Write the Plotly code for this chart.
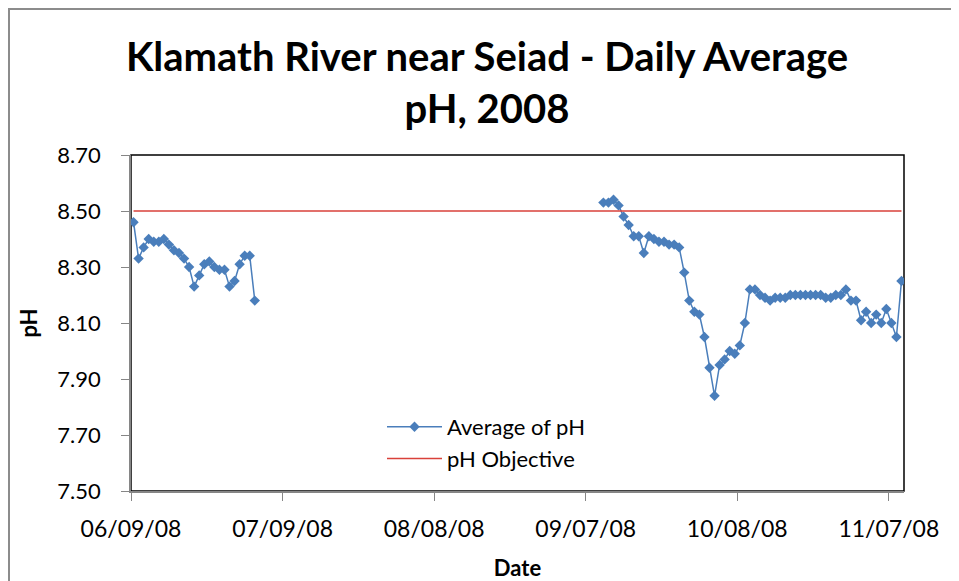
import pandas as pd
import plotly.graph_objects as go

# ---- data ----
title_text = "Klamath River near Seiad - Daily Average<br>pH, 2008"
series_name = "Average of pH"
objective_name = "pH Objective"
objective_value = 8.50

seg1_start = "2008-06-09"
seg1_ph = [8.46, 8.33, 8.37, 8.40, 8.39, 8.39, 8.40, 8.38, 8.36, 8.35,
           8.33, 8.30, 8.23, 8.27, 8.31, 8.32, 8.30, 8.29, 8.29, 8.23,
           8.25, 8.31, 8.34, 8.34, 8.18]

seg2_start = "2008-09-10"
seg2_ph = [8.53, 8.53, 8.54, 8.52, 8.48, 8.45, 8.41, 8.41, 8.35, 8.41,
           8.40, 8.39, 8.39, 8.38, 8.38, 8.37, 8.28, 8.18, 8.14, 8.13,
           8.05, 7.94, 7.84, 7.95, 7.97, 8.00, 7.99, 8.02, 8.10,
           8.22, 8.22, 8.20, 8.19, 8.18, 8.19, 8.19, 8.19, 8.20, 8.20,
           8.20, 8.20, 8.20, 8.20, 8.20, 8.19, 8.19, 8.20, 8.20, 8.22,
           8.18, 8.18, 8.11, 8.14, 8.10, 8.13, 8.10, 8.15, 8.10, 8.05,
           8.25]

axis_start = "2008-06-09"
axis_days = 153
tick_step_days = 30
tick_labels = ["06/09/08", "07/09/08", "08/08/08", "09/07/08", "10/08/08", "11/07/08"]
y_ticks = [7.50, 7.70, 7.90, 8.10, 8.30, 8.50, 8.70]

# ---- build ----
half_day = pd.Timedelta(hours=12)
x1 = list(pd.date_range(seg1_start, periods=len(seg1_ph), freq="D") + half_day)
x2 = list(pd.date_range(seg2_start, periods=len(seg2_ph), freq="D") + half_day)
xs = x1 + [None] + x2
ys = seg1_ph + [None] + seg2_ph

t0 = pd.Timestamp(axis_start)
tickvals = [t0 + pd.Timedelta(days=tick_step_days * i) for i in range(len(tick_labels))]
x_range = [t0, t0 + pd.Timedelta(days=axis_days)]

FONT = "Lato"
blue = "#4A7EBB"
red = "#D9413A"
grey = "#868686"

fig = go.Figure()
fig.add_trace(go.Scatter(
    x=xs, y=ys, name=series_name, mode="lines+markers",
    line=dict(color=blue, width=1.5),
    marker=dict(symbol="diamond", size=8, color=blue),
    connectgaps=False,
))
fig.add_trace(go.Scatter(
    x=[x1[0], x2[-1]], y=[objective_value, objective_value],
    name=objective_name, mode="lines",
    line=dict(color=red, width=1.5),
))

# page has an 8px body margin: figure is offset by OFF on screen
OFF = 8
SW, SH = 959, 581
W, H = SW - OFF, SH - OFF
PL, PR, PT, PB = 131, 904, 155, 491          # plot area on screen
L, R, T, B = PL - OFF, SW - PR, PT - OFF, SH - PB
pw, ph = PR - PL, PB - PT

def px_x(p):
    return (p - PL) / pw

def px_y(p):
    return (PB - p) / ph

fig.update_layout(
    width=W, height=H,
    margin=dict(l=L, r=R, t=T, b=B, autoexpand=False),
    paper_bgcolor="white", plot_bgcolor="white",
    font=dict(family=FONT, size=22, color="#000000"),
    title=dict(text=title_text, x=(487 - OFF) / W, xref="container", xanchor="center",
               y=1 - (71 - OFF) / H, yref="container", yanchor="middle",
               font=dict(family=FONT, size=40, color="#000000", weight="bold")),
    showlegend=True,
    legend=dict(x=px_x(382), y=px_y(406), xanchor="left", yanchor="top",
                bgcolor="rgba(0,0,0,0)", font=dict(family=FONT, size=22),
                itemwidth=55, tracegroupgap=0),
    shapes=[
        dict(type="rect", xref="paper", yref="paper", x0=0, x1=1, y0=0, y1=1,
             line=dict(color="#000000", width=1.5), layer="below"),
        dict(type="rect", xref="paper", yref="paper",
             x0=px_x(OFF + 1), x1=px_x(1100), y0=px_y(700), y1=px_y(OFF + 1),
             line=dict(color="#8C8C8C", width=2), layer="below"),
    ],
)

fig.update_xaxes(
    type="date", range=x_range, tickmode="array", tickvals=tickvals, ticktext=tick_labels,
    showgrid=False, zeroline=False, showline=True, linecolor=grey, linewidth=1.5,
    ticks="outside", ticklen=8, tickcolor=grey, tickwidth=1, automargin=False,
    tickfont=dict(family=FONT, size=23), ticklabelstandoff=9,
    title=dict(text="<b>Date</b>", font=dict(family=FONT, size=22), standoff=27),
)
fig.update_yaxes(
    range=[7.5, 8.7], tickmode="array", tickvals=y_ticks, tickformat=".2f",
    showgrid=False, zeroline=False, showline=True, linecolor=grey, linewidth=1.5,
    ticks="outside", ticklen=8, tickcolor=grey, tickwidth=1, automargin=False,
    tickfont=dict(family=FONT, size=22), ticklabelstandoff=16,
    title=dict(text="<b>pH</b>", font=dict(family=FONT, size=22), standoff=14),
)

fig.write_html("out.html", config={"displayModeBar": False})
